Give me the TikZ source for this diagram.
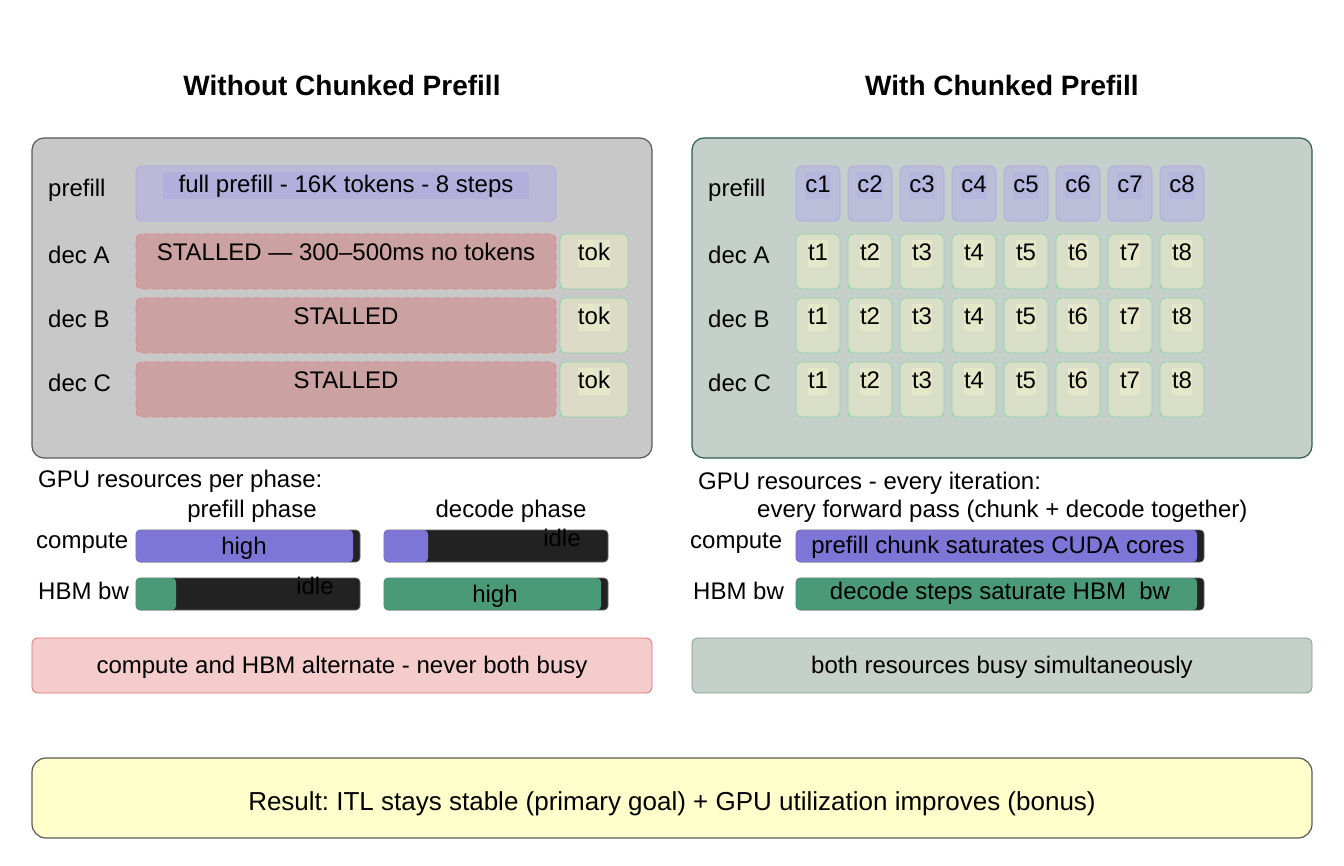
\documentclass[tikz,border=0pt]{standalone}
\usepackage{fontspec}
\setmainfont{Liberation Sans}
\usetikzlibrary{fit}
\frenchspacing
\definecolor{pLfill}{HTML}{C8C8C8}
\definecolor{pLdraw}{HTML}{5A5A5A}
\definecolor{pRfill}{HTML}{C5D0CB}
\definecolor{pRdraw}{HTML}{2E5E4E}
\definecolor{prefFill}{HTML}{BBB9D7}
\definecolor{prefDraw}{HTML}{ADA8E4}
\definecolor{prefHl}{HTML}{B2AFDC}
\definecolor{chFill}{HTML}{BBBED8}
\definecolor{chHl}{HTML}{B5B6DD}
\definecolor{stFill}{HTML}{CBA1A1}
\definecolor{stDraw}{HTML}{D98282}
\definecolor{tokFillL}{HTML}{DCDCC6}
\definecolor{tokFillR}{HTML}{D8DFC6}
\definecolor{tokDraw}{HTML}{8ED4AA}
\definecolor{tokHl}{HTML}{E5E8C8}
\definecolor{barDark}{HTML}{222222}
\definecolor{barPurple}{HTML}{7D76D6}
\definecolor{barGreen}{HTML}{4A9A78}
\definecolor{redFill}{HTML}{F4CCCC}
\definecolor{redDraw}{HTML}{E07070}
\definecolor{grnFill}{HTML}{C5D0CB}
\definecolor{grnDraw}{HTML}{7F9A8E}
\definecolor{resFill}{HTML}{FFFFCC}
\begin{document}
\begin{tikzpicture}[x=1pt,y=-1pt,font=\fontsize{24}{28}\selectfont,
  panelL/.style={draw=pLdraw,fill=pLfill,line width=1.2pt,rounded corners=12pt,inner sep=0pt},
  panelR/.style={draw=pRdraw,fill=pRfill,line width=1.2pt,rounded corners=12pt,inner sep=0pt},
  prefbox/.style={draw=prefDraw,fill=prefFill,line width=0.8pt,rounded corners=6pt,inner sep=0pt},
  chbox/.style={draw=prefDraw,fill=chFill,line width=0.8pt,rounded corners=6pt,inner sep=0pt},
  stallbox/.style={draw=stDraw,fill=stFill,line width=0.8pt,dash pattern=on 6pt off 4pt,rounded corners=6pt,inner sep=0pt},
  tokboxL/.style={draw=tokDraw,fill=tokFillL,line width=0.8pt,rounded corners=6pt,inner sep=0pt},
  tokboxR/.style={draw=tokDraw,fill=tokFillR,line width=0.8pt,rounded corners=6pt,inner sep=0pt},
  hl/.style={inner xsep=0pt,inner ysep=0pt,text height=20.5pt,text depth=6.5pt,yshift=-0.5pt},
  lbl/.style={inner sep=0pt,anchor=west,yshift=-2pt},
  ctr/.style={inner sep=0pt,text height=17pt,text depth=5pt,yshift=-2pt},
  title/.style={inner sep=0pt,font=\fontsize{28}{32}\selectfont\bfseries},
  darkbar/.style={draw=black!60,fill=barDark,line width=0.6pt,rounded corners=4pt,inner sep=0pt},
  pbar/.style={fill=barPurple,rounded corners=4pt,inner sep=0pt},
  gbar/.style={fill=barGreen,rounded corners=4pt,inner sep=0pt},
  notered/.style={draw=redDraw,fill=redFill,line width=0.8pt,rounded corners=6pt,inner sep=0pt},
  notegrn/.style={draw=grnDraw,fill=grnFill,line width=0.8pt,rounded corners=6pt,inner sep=0pt},
  noteres/.style={draw=pLdraw,fill=resFill,line width=1.2pt,rounded corners=14pt,inner sep=0pt}]
\useasboundingbox (0,0) rectangle (1344,866);
\fill[white] (0,0) rectangle (1344,866);

% titles
\node[title] (tL) at (342,85) {Without Chunked Prefill};
\node[title] (tR) at (1002,85) {With Chunked Prefill};

% panels
\node[panelL,fit={(32,138)(652,458)}] (PL) {};
\node[panelR,fit={(692,138)(1312,458)}] (PR) {};

% left panel rows
\node[lbl] (lpL) at (48,188) {prefill};
\node[lbl] (laL) at (48,253) {dec A};
\node[lbl] (lbL) at (48,317) {dec B};
\node[lbl] (lcL) at (48,381) {dec C};

\node[prefbox,fit={(136,166)(556,221)}] (pf) {};
\node[hl,fill=prefHl,minimum width=366pt] (pfh) at (346,185.5) {full prefill - 16K tokens - 8 steps};

\node[stallbox,fit={(136,234)(556,289)}] (sA) {};
\node[ctr] (sAt) at (346,253) {STALLED — 300–500ms no tokens};
\node[stallbox,fit={(136,298)(556,353)}] (sB) {};
\node[ctr] (sBt) at (346,317) {STALLED};
\node[stallbox,fit={(136,362)(556,417)}] (sC) {};
\node[ctr] (sCt) at (346,381) {STALLED};

\foreach \r/\yt in {A/234,B/298,C/362}{
  \node[tokboxL,fit={(560,\yt)(628,\yt+55)}] (tok\r) {};
  \node[hl,fill=tokHl] (tokt\r) at (594,\yt+19.5) {tok};
}

% right panel rows
\node[lbl] (lpR) at (708,188) {prefill};
\node[lbl] (laR) at (708,253) {dec A};
\node[lbl] (lbR) at (708,317) {dec B};
\node[lbl] (lcR) at (708,381) {dec C};

\foreach \i in {1,...,8}{
  \pgfmathsetmacro{\xl}{796+(\i-1)*52}
  \pgfmathsetmacro{\xc}{\xl+22}
  \node[chbox,fit={(\xl,166)(\xl+44,221)}] (c\i) {};
  \node[hl,fill=chHl] (ct\i) at (\xc,185.5) {c\i};
  \foreach \r/\yt in {A/234,B/298,C/362}{
    \node[tokboxR,fit={(\xl,\yt)(\xl+44,\yt+55)}] (t\r\i) {};
    \node[hl,fill=tokHl] (tt\r\i) at (\xc,\yt+19.5) {t\i};
  }
}

% left resources
\node[lbl] (gpuL) at (38,479) {GPU resources per phase:};
\node[ctr] (ppL) at (252,509) {prefill phase};
\node[ctr] (dpL) at (511,509) {decode phase};
\node[lbl] (cmpL) at (36,541) {compute};
\node[lbl] (hbmL) at (38,589) {HBM bw};

\node[darkbar,fit={(136,530)(360,562)}] (b1) {};
\node[pbar,fit={(136,530)(353,562)}] (b1p) {};
\node[ctr] (b1t) at (244,546) {high};

\node[darkbar,fit={(384,530)(608,562)}] (b2) {};
\node[pbar,fit={(384,530)(428,562)}] (b2p) {};
\node[ctr] (b2t) at (562,538) {idle};

\node[darkbar,fit={(136,578)(360,610)}] (b3) {};
\node[gbar,fit={(136,578)(176,610)}] (b3g) {};
\node[ctr] (b3t) at (315,586) {idle};

\node[darkbar,fit={(384,578)(608,610)}] (b4) {};
\node[gbar,fit={(384,578)(601,610)}] (b4g) {};
\node[ctr] (b4t) at (495,594) {high};

\node[notered,fit={(32,638)(652,693)}] (nL) {};
\node[ctr] (nLt) at (342,665.5) {compute and HBM alternate - never both busy};

% right resources
\node[lbl] (gpuR) at (698,481) {GPU resources - every iteration:};
\node[lbl] (fpR) at (757,509) {every forward pass (chunk + decode together)};
\node[lbl] (cmpR) at (690,541) {compute};
\node[lbl] (hbmR) at (693,589) {HBM bw};

\node[darkbar,fit={(796,530)(1204,562)}] (b5) {};
\node[pbar,fit={(796,530)(1197,562)}] (b5p) {};
\node[ctr] (b5t) at (998,545) {prefill chunk saturates CUDA cores};

\node[darkbar,fit={(796,578)(1204,610)}] (b6) {};
\node[gbar,fit={(796,578)(1197,610)}] (b6g) {};
\node[ctr] (b6t) at (1000,591) {decode steps saturate HBM\ \ bw};

\node[notegrn,fit={(692,638)(1312,693)}] (nR) {};
\node[ctr] (nRt) at (1002,665.5) {both resources busy simultaneously};

% result
\node[noteres,fit={(32,758)(1312,838)}] (res) {};
\node[ctr,font=\fontsize{26}{30}\selectfont] (rest) at (672,802) {Result: ITL stays stable (primary goal) + GPU utilization improves (bonus)};
\end{tikzpicture}
\end{document}
